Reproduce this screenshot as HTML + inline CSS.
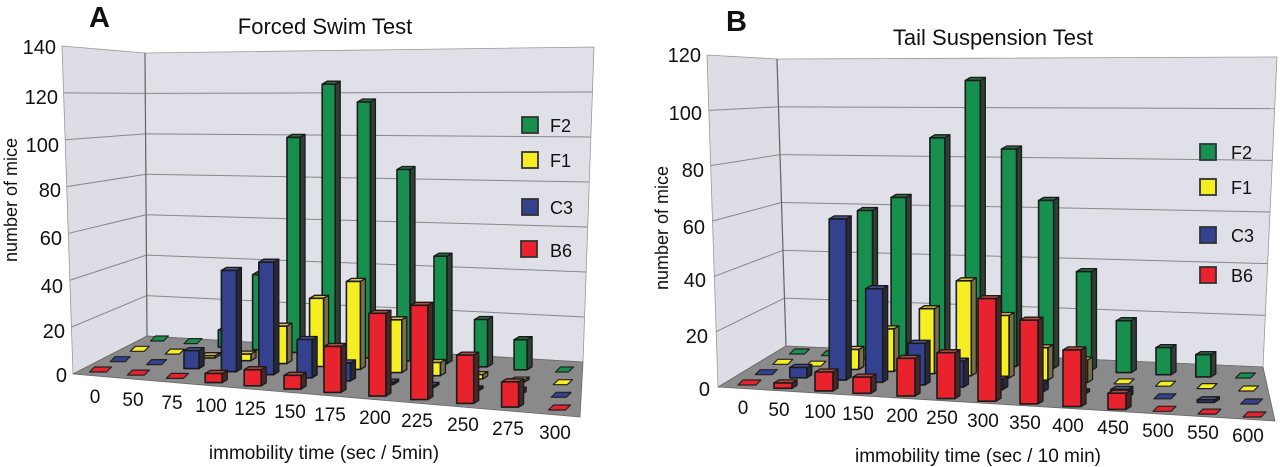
<!DOCTYPE html>
<html><head><meta charset="utf-8">
<style>
html,body{margin:0;padding:0;background:#fff;}
svg{display:block;font-family:"Liberation Sans",Arial,sans-serif;}
</style></head>
<body>
<svg id="s" width="1280" height="467" viewBox="0 0 1280 467" xmlns="http://www.w3.org/2000/svg">
<g id="geo"></g>
<g font-size="18" fill="#111">
<!-- Panel A text -->
<text x="89" y="27" font-size="29" font-weight="bold">A</text>
<text x="325" y="34" font-size="22" text-anchor="middle">Forced Swim Test</text>
<g text-anchor="end" font-size="20">
<text x="56" y="54">140</text><text x="58" y="104">120</text><text x="59" y="152">100</text>
<text x="61" y="197">80</text><text x="62" y="245">60</text><text x="63" y="293">40</text>
<text x="65" y="338">20</text><text x="67" y="382">0</text>
</g>
<text transform="translate(17,200) rotate(-90)" text-anchor="middle" font-size="18">number of mice</text>
<g text-anchor="middle" font-size="19">
<text x="95" y="403">0</text><text x="133" y="406">50</text><text x="172" y="409">75</text>
<text x="211" y="412">100</text><text x="250" y="415">125</text><text x="290" y="418">150</text>
<text x="330" y="421">175</text><text x="375" y="424">200</text><text x="417" y="427">225</text>
<text x="463" y="431">250</text><text x="508" y="435">275</text><text x="555" y="439">300</text>
</g>
<text x="324" y="459" text-anchor="middle" font-size="19">immobility time (sec / 5min)</text>
<g font-size="18">
<text x="550" y="132">F2</text><text x="550" y="167">F1</text><text x="550" y="214">C3</text><text x="550" y="257">B6</text>
</g>
<!-- Panel B text -->
<text x="726" y="31" font-size="29" font-weight="bold">B</text>
<text x="993" y="45" font-size="22" text-anchor="middle">Tail Suspension Test</text>
<g text-anchor="end" font-size="20">
<text x="701" y="62">120</text><text x="702" y="120">100</text><text x="704" y="177">80</text>
<text x="705" y="234">60</text><text x="706" y="287">40</text><text x="708" y="343">20</text><text x="710" y="396">0</text>
</g>
<text transform="translate(668,228) rotate(-90)" text-anchor="middle" font-size="18">number of mice</text>
<g text-anchor="middle" font-size="19">
<text x="743" y="414">0</text><text x="779" y="416">50</text><text x="820" y="418">100</text>
<text x="858" y="420">150</text><text x="902" y="422">200</text><text x="942" y="424">250</text>
<text x="983" y="427">300</text><text x="1025" y="429">350</text><text x="1068" y="432">400</text>
<text x="1113" y="434">450</text><text x="1158" y="437">500</text><text x="1203" y="439">550</text>
<text x="1248" y="442">600</text>
</g>
<text x="978" y="462" text-anchor="middle" font-size="19">immobility time (sec / 10 min)</text>
<g font-size="18">
<text x="1231" y="159">F2</text><text x="1231" y="194">F1</text><text x="1231" y="242">C3</text><text x="1231" y="282">B6</text>
</g>
</g>
</svg>
<script>
(function(){
var NS="http://www.w3.org/2000/svg",G=document.getElementById('geo');
function el(t,a){var e=document.createElementNS(NS,t);for(var k in a)e.setAttribute(k,a[k]);G.appendChild(e);return e;}
function poly(pts,fill,stroke,sw){return el('polygon',{points:pts.map(function(p){return p[0].toFixed(1)+','+p[1].toFixed(1)}).join(' '),fill:fill,stroke:stroke||'none','stroke-width':sw||0,'stroke-linejoin':'round'});}
function line(a,b,c,w){el('line',{x1:a[0],y1:a[1],x2:b[0],y2:b[1],stroke:c,'stroke-width':w});}
var COL=[
 ['#e8232e','#4a2626','#b54a3a'],
 ['#34418e','#26283c','#4a5290'],
 ['#f4ee22','#7a7048','#d8c040'],
 ['#17904f','#2e3f35','#2f6a48']];
function panel(P){
 poly([P.LT,P.BT,P.BB,P.FL],'#dcdde5','#999',0.8);
 poly([P.BT,P.RT,P.RB,P.BB],'#e0e1e8','#999',0.8);
 poly([P.FL,P.BB,P.RB,P.FR],'#8a8a8a','#666',0.8);
 for(var v=P.step;v<P.max;v+=P.step){
  var t=v/P.max;
  var lx=P.FL[0]+(P.LT[0]-P.FL[0])*t, ly=P.FL[1]+(P.LT[1]-P.FL[1])*t;
  var bx=P.BB[0]+(P.BT[0]-P.BB[0])*t, by=P.BB[1]+(P.BT[1]-P.BB[1])*t;
  var rx=P.RB[0]+(P.RT[0]-P.RB[0])*t, ry=P.RB[1]+(P.RT[1]-P.RB[1])*t;
  line([lx,ly],[bx,by],'#888',1);line([bx,by],[rx,ry],'#888',1);
 }
 line(P.BB,P.BT,'#666',1.2);
 var n=P.lx.length, L0=P.lx[0], L1=P.lx[n-1];
 for(var r=3;r>=0;r--){
  var w=P.w[r], s=P.s[r], c=COL[r], dx=5, dy=3;
  for(var i=0;i<n;i++){
   var t=(P.lx[i]-L0)/(L1-L0);
   var fx=P.f0[0]+(P.f1[0]-P.f0[0])*t, fy=P.f0[1]+(P.f1[1]-P.f0[1])*t;
   var kx=P.k0[0]+(P.k1[0]-P.k0[0])*t, ky=P.k0[1]+(P.k1[1]-P.k0[1])*t;
   var x=fx+(kx-fx)*r/3, y=fy+(ky-fy)*r/3;
   var v=P.d[r][i];
   if(v<=0.5){
    poly([[x-w/2,y+3],[x+w/2,y+3],[x+w/2+dx,y-2],[x-w/2+dx,y-2]],c[0],'#222',1.2);
    continue;
   }
   var by=y+4, h=v*s, L=x-w/2, R=x+w/2;
   poly([[R,by],[R+dx,by-dy],[R+dx,by-h-dy],[R,by-h]],c[1],'#1a1a1a',1.3);
   poly([[L,by-h],[R,by-h],[R+dx,by-h-dy],[L+dx,by-h-dy]],c[2],'#1a1a1a',1.3);
   poly([[L,by],[R,by],[R,by-h],[L,by-h]],c[0],'#1a1a1a',1.6);
  }
 }
 for(var j=0;j<4;j++){
  var q=P.leg[j];
  el('rect',{x:q[0],y:q[1],width:16,height:16,fill:COL[3-j][0],stroke:'#333','stroke-width':1.8});
 }
}
panel({LT:[62,46],BT:[145,53],RT:[594,47],RB:[583,362],BB:[147,336],FL:[73,374],FR:[580,417],
 max:140,step:20,
 lx:[95,133,172,211,250,290,330,375,417,463,508,555],
 f0:[98,369],f1:[557,407],k0:[157,338],k1:[562,369],
 w:[17,15,14,13],s:[2.3,2.25,2.2,2.15],
 d:[[0,0,0,4,7,6,20,36,41,21,11,0],
    [0,0,8,45,50,17,8,1,1,1,2,0],
    [0,0,1,3,17,31,40,24,6,2,1,0],
    [0,0,8,35,100,126,119,89,50,22,14,0]],
 leg:[[522,117],[522,152],[522,199],[521,241]]});
panel({LT:[707,55],BT:[777,59],RT:[1277,57],RB:[1263,367],BB:[786,346],FL:[718,387],FR:[1275,421],
 max:120,step:20,
 lx:[743,779,820,858,902,942,983,1025,1068,1113,1158,1203,1248],
 f0:[747,382],f1:[1252,414],k0:[797,351],k1:[1243,375],
 w:[18,17,15,15],s:[2.7,2.6,2.5,2.47],
 d:[[0,2,7,6,14,17,38,31,21,6,0,0,0],
    [0,4,62,36,16,10,4,3,1,3,0,1,0],
    [0,0,8,17,26,38,25,13,9,0,0,0,0],
    [0,0,60,66,91,115,88,68,40,21,11,9,0]],
 leg:[[1200,144],[1200,179],[1200,227],[1200,267]]});
})();
</script>
</body></html>
